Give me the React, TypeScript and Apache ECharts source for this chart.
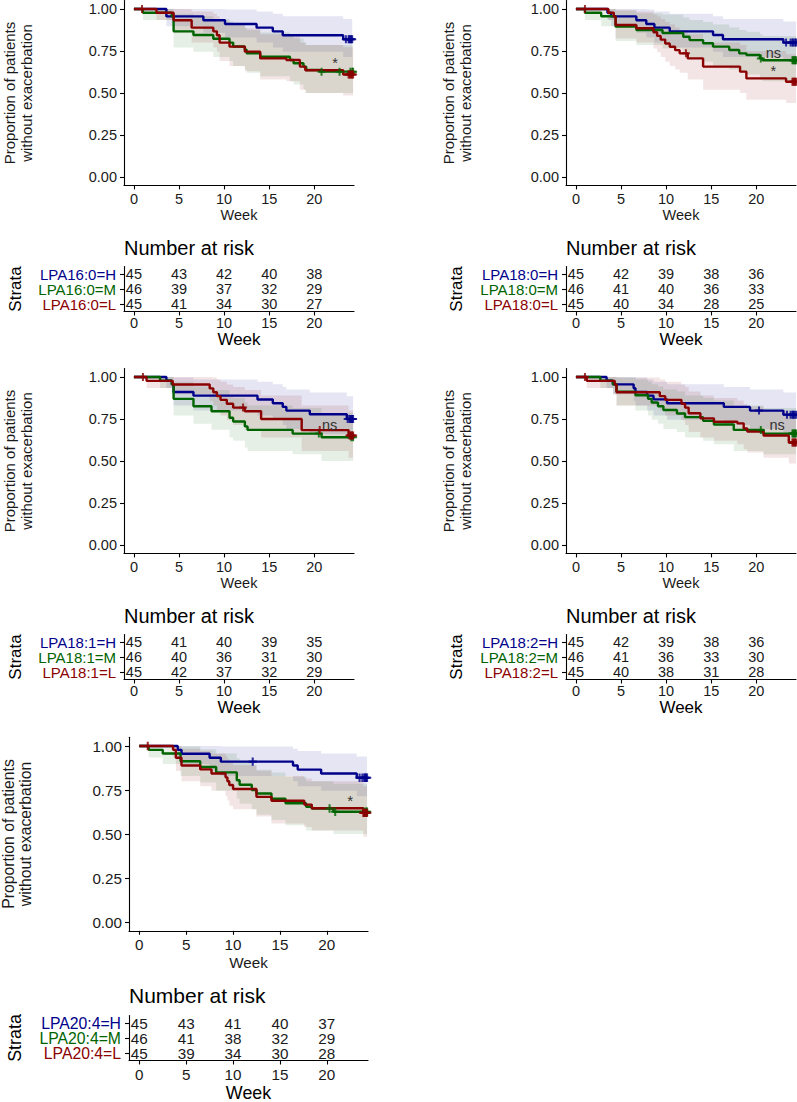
import React, { useEffect, useRef } from "react";
import * as echarts from "echarts";

// ---------- shared ticks ----------
const RISK_WEEKS = [0, 5, 10, 15, 20];
const X_TICKS = [0, 5, 10, 15, 20];
const Y_TICKS = [0, 0.25, 0.5, 0.75, 1];

// ---------- Panel 1 : LPA16:0 ----------
const P1_NAME = "LPA16:0";
const P1_H_STEPS = [[0, 1], [3.6, 0.956], [7.7, 0.933], [10.1, 0.911], [13.6, 0.889], [15.4, 0.867], [16.5, 0.844], [23.2, 0.82], [24.2, 0.82]];
const P1_H_BAND = [[1, 1], [0.898, 1], [0.858, 1], [0.83, 0.997], [0.8, 0.985], [0.771, 0.972], [0.746, 0.957], [0.715, 0.94], [0.715, 0.94]];
const P1_H_CENS = [23.5, 23.8, 23.9, 24.0, 24.1, 24.2];
const P1_M_STEPS = [[0, 1], [1.0, 0.978], [4.2, 0.957], [4.4, 0.867], [6.6, 0.845], [8.8, 0.823], [10.6, 0.8], [11.0, 0.777], [12.3, 0.757], [12.5, 0.737], [14.0, 0.716], [17.3, 0.696], [17.7, 0.677], [18.8, 0.657], [19.1, 0.637], [20.6, 0.627], [24.3, 0.627]];
const P1_M_BAND = [[1, 1], [0.935, 1], [0.898, 1], [0.771, 0.972], [0.746, 0.957], [0.715, 0.94], [0.69, 0.926], [0.66, 0.907], [0.64, 0.89], [0.62, 0.875], [0.6, 0.86], [0.57, 0.84], [0.55, 0.825], [0.52, 0.8], [0.5, 0.785], [0.5, 0.785], [0.5, 0.785]];
const P1_M_CENS = [20.8, 22.8, 24.0, 24.2, 24.3];
const P1_L_STEPS = [[0, 1], [2.5, 0.978], [4.4, 0.933], [6.4, 0.889], [8.8, 0.867], [9.2, 0.844], [9.5, 0.8], [10.6, 0.776], [12.3, 0.746], [14.0, 0.706], [16.9, 0.696], [18.4, 0.657], [19.0, 0.635], [23.2, 0.61], [24.3, 0.61]];
const P1_L_BAND = [[1, 1], [0.935, 1], [0.858, 1], [0.8, 0.985], [0.771, 0.972], [0.746, 0.957], [0.69, 0.926], [0.66, 0.907], [0.63, 0.885], [0.58, 0.85], [0.57, 0.84], [0.52, 0.8], [0.5, 0.785], [0.485, 0.772], [0.485, 0.772]];
const P1_L_CENS = [0.9, 23.8, 23.9, 24.0, 24.1, 24.2, 24.3];
const P1_RISK_H = [45, 43, 42, 40, 38];
const P1_RISK_M = [46, 39, 37, 32, 29];
const P1_RISK_L = [45, 41, 34, 30, 27];
const P1_NOTES = [[22.3, 0.68, "*"]];

// ---------- Panel 2 : LPA18:0 ----------
const P2_NAME = "LPA18:0";
const P2_H_STEPS = [[0, 1], [3.5, 0.978], [3.9, 0.956], [6.7, 0.933], [7.8, 0.911], [8.7, 0.889], [10.4, 0.867], [15.2, 0.845], [16.3, 0.82], [23.0, 0.8], [24.4, 0.8]];
const P2_H_BAND = [[1, 1], [0.935, 1], [0.898, 1], [0.858, 1], [0.83, 0.997], [0.8, 0.985], [0.771, 0.972], [0.746, 0.957], [0.715, 0.94], [0.69, 0.926], [0.69, 0.926]];
const P2_H_CENS = [23.3, 23.8, 24.0, 24.1, 24.3, 24.4];
const P2_M_STEPS = [[0, 1], [1.0, 0.978], [2.8, 0.957], [4.4, 0.895], [6.7, 0.875], [9.6, 0.857], [11.9, 0.835], [12.6, 0.815], [14.1, 0.796], [15.2, 0.776], [17.0, 0.756], [18.1, 0.736], [18.9, 0.726], [20.4, 0.706], [20.7, 0.695], [24.4, 0.695]];
const P2_M_BAND = [[1, 1], [0.935, 1], [0.898, 1], [0.81, 0.99], [0.785, 0.975], [0.765, 0.967], [0.735, 0.95], [0.71, 0.935], [0.686, 0.922], [0.66, 0.907], [0.64, 0.89], [0.62, 0.875], [0.61, 0.865], [0.58, 0.85], [0.57, 0.84], [0.57, 0.84]];
const P2_M_CENS = [20.5, 24.0, 24.1, 24.2, 24.3, 24.4];
const P2_L_STEPS = [[0, 1], [3.6, 0.978], [4.2, 0.956], [4.4, 0.905], [6.7, 0.885], [8.6, 0.862], [9.0, 0.84], [9.4, 0.818], [9.9, 0.795], [10.4, 0.775], [11.0, 0.755], [11.5, 0.736], [12.4, 0.706], [14.1, 0.657], [18.2, 0.627], [18.9, 0.587], [23.3, 0.567], [24.4, 0.567]];
const P2_L_BAND = [[1, 1], [0.935, 1], [0.898, 1], [0.824, 0.995], [0.8, 0.985], [0.765, 0.967], [0.742, 0.955], [0.715, 0.94], [0.686, 0.922], [0.66, 0.907], [0.64, 0.89], [0.62, 0.875], [0.58, 0.85], [0.52, 0.8], [0.5, 0.785], [0.46, 0.75], [0.44, 0.73], [0.44, 0.73]];
const P2_L_CENS = [1.0, 12.2, 24.0, 24.1, 24.2, 24.3, 24.4];
const P2_RISK_H = [45, 42, 39, 38, 36];
const P2_RISK_M = [46, 41, 40, 36, 33];
const P2_RISK_L = [45, 40, 34, 28, 25];
const P2_NOTES = [[21.9, 0.74, "ns"], [21.9, 0.63, "*"]];

// ---------- Panel 3 : LPA18:1 ----------
const P3_NAME = "LPA18:1";
const P3_H_STEPS = [[0, 1], [3.6, 0.978], [4.2, 0.956], [4.4, 0.911], [6.6, 0.889], [13.7, 0.866], [15.4, 0.844], [16.5, 0.822], [16.9, 0.8], [19.5, 0.778], [23.6, 0.75], [24.3, 0.75]];
const P3_H_BAND = [[1, 1], [0.935, 1], [0.898, 1], [0.83, 0.997], [0.8, 0.985], [0.771, 0.972], [0.746, 0.957], [0.715, 0.94], [0.69, 0.926], [0.66, 0.907], [0.63, 0.885], [0.63, 0.885]];
const P3_H_CENS = [23.7, 23.9, 24.0, 24.1, 24.2, 24.3];
const P3_M_STEPS = [[0, 1], [2.9, 0.978], [4.2, 0.957], [4.4, 0.87], [6.6, 0.826], [8.6, 0.796], [10.6, 0.757], [11.0, 0.735], [12.3, 0.706], [12.6, 0.685], [17.6, 0.663], [20.8, 0.641], [24.3, 0.641]];
const P3_M_BAND = [[1, 1], [0.935, 1], [0.898, 1], [0.771, 0.972], [0.722, 0.944], [0.686, 0.922], [0.64, 0.89], [0.62, 0.875], [0.58, 0.85], [0.56, 0.83], [0.54, 0.815], [0.5, 0.785], [0.5, 0.785]];
const P3_M_CENS = [20.5, 24.1, 24.3];
const P3_L_STEPS = [[0, 1], [1.4, 0.977], [4.3, 0.955], [8.4, 0.932], [8.8, 0.909], [9.2, 0.886], [9.6, 0.864], [10.3, 0.841], [11.0, 0.818], [12.3, 0.796], [14.1, 0.75], [18.6, 0.684], [23.8, 0.652], [24.3, 0.652]];
const P3_L_BAND = [[1, 1], [0.934, 1], [0.898, 1], [0.858, 1], [0.83, 0.997], [0.8, 0.985], [0.771, 0.972], [0.742, 0.955], [0.715, 0.94], [0.686, 0.922], [0.64, 0.89], [0.56, 0.83], [0.52, 0.8], [0.52, 0.8]];
const P3_L_CENS = [1.0, 12.1, 20.6, 23.9, 24.0, 24.1, 24.2, 24.3];
const P3_RISK_H = [45, 41, 40, 39, 35];
const P3_RISK_M = [46, 40, 36, 31, 30];
const P3_RISK_L = [45, 42, 37, 32, 29];
const P3_NOTES = [[21.7, 0.714, "ns"]];

// ---------- Panel 4 : LPA18:2 ----------
const P4_NAME = "LPA18:2";
const P4_H_STEPS = [[0, 1], [3.4, 0.978], [4.1, 0.956], [6.4, 0.933], [6.6, 0.911], [7.9, 0.889], [8.6, 0.867], [10.1, 0.844], [16.4, 0.822], [19.3, 0.8], [23.0, 0.776], [24.4, 0.776]];
const P4_H_BAND = [[1, 1], [0.935, 1], [0.898, 1], [0.858, 1], [0.83, 0.997], [0.8, 0.985], [0.771, 0.972], [0.746, 0.957], [0.715, 0.94], [0.69, 0.926], [0.66, 0.907], [0.66, 0.907]];
const P4_H_CENS = [20.3, 23.4, 23.8, 24.0, 24.1, 24.2, 24.4];
const P4_M_STEPS = [[0, 1], [2.7, 0.978], [4.1, 0.957], [4.5, 0.913], [6.6, 0.891], [8.0, 0.87], [8.4, 0.848], [9.1, 0.826], [9.7, 0.804], [11.2, 0.783], [12.1, 0.761], [14.1, 0.739], [15.3, 0.717], [17.5, 0.685], [20.8, 0.663], [24.4, 0.663]];
const P4_M_BAND = [[1, 1], [0.935, 1], [0.898, 1], [0.83, 0.997], [0.8, 0.985], [0.771, 0.972], [0.746, 0.957], [0.722, 0.944], [0.69, 0.926], [0.672, 0.913], [0.64, 0.89], [0.62, 0.875], [0.6, 0.86], [0.56, 0.83], [0.54, 0.815], [0.54, 0.815]];
const P4_M_CENS = [20.5, 24.0, 24.1, 24.2, 24.3, 24.4];
const P4_L_STEPS = [[0, 1], [1.2, 0.977], [4.3, 0.955], [4.5, 0.909], [9.3, 0.886], [9.9, 0.864], [11.7, 0.841], [12.1, 0.818], [12.5, 0.784], [13.8, 0.754], [15.3, 0.734], [17.9, 0.724], [18.6, 0.694], [19.0, 0.675], [20.8, 0.652], [23.6, 0.61], [24.4, 0.61]];
const P4_L_BAND = [[1, 1], [0.934, 1], [0.898, 1], [0.83, 0.997], [0.8, 0.985], [0.771, 0.972], [0.742, 0.955], [0.715, 0.94], [0.672, 0.913], [0.64, 0.89], [0.62, 0.875], [0.6, 0.86], [0.57, 0.84], [0.55, 0.825], [0.52, 0.8], [0.485, 0.772], [0.485, 0.772]];
const P4_L_CENS = [1.0, 24.0, 24.1, 24.2, 24.3, 24.4];
const P4_RISK_H = [45, 42, 39, 38, 36];
const P4_RISK_M = [46, 41, 36, 33, 30];
const P4_RISK_L = [45, 40, 38, 31, 28];
const P4_NOTES = [[22.3, 0.714, "ns"]];

// ---------- Panel 5 : LPA20:4 ----------
const P5_NAME = "LPA20:4";
const P5_H_STEPS = [[0, 1], [4.1, 0.978], [4.5, 0.956], [7.5, 0.933], [8.7, 0.911], [16.4, 0.889], [16.9, 0.866], [19.4, 0.844], [23.2, 0.82], [24.3, 0.82]];
const P5_H_BAND = [[1, 1], [0.935, 1], [0.898, 1], [0.858, 1], [0.83, 0.997], [0.8, 0.985], [0.771, 0.972], [0.746, 0.957], [0.715, 0.94], [0.715, 0.94]];
const P5_H_CENS = [12.1, 23.5, 23.8, 24.0, 24.1, 24.2, 24.3];
const P5_M_STEPS = [[0, 1], [1.0, 0.978], [2.5, 0.957], [4.4, 0.913], [6.5, 0.881], [8.2, 0.85], [10.4, 0.805], [10.7, 0.78], [12.0, 0.75], [12.5, 0.73], [14.1, 0.7], [15.6, 0.675], [17.8, 0.655], [18.4, 0.645], [20.7, 0.626], [24.3, 0.626]];
const P5_M_BAND = [[1, 1], [0.935, 1], [0.898, 1], [0.83, 0.997], [0.793, 0.981], [0.746, 0.957], [0.7, 0.93], [0.672, 0.913], [0.64, 0.89], [0.61, 0.865], [0.58, 0.85], [0.55, 0.825], [0.52, 0.8], [0.52, 0.8], [0.5, 0.785], [0.5, 0.785]];
const P5_M_CENS = [20.3, 20.9, 24.0, 24.2, 24.3];
const P5_L_STEPS = [[0, 1], [3.6, 0.978], [3.9, 0.933], [4.5, 0.889], [6.5, 0.867], [7.7, 0.844], [9.2, 0.822], [9.4, 0.8], [9.6, 0.778], [10.0, 0.756], [12.5, 0.711], [14.1, 0.689], [17.6, 0.667], [18.4, 0.646], [23.9, 0.62], [24.3, 0.62]];
const P5_L_BAND = [[1, 1], [0.935, 1], [0.858, 1], [0.8, 0.985], [0.771, 0.972], [0.746, 0.957], [0.715, 0.94], [0.69, 0.926], [0.66, 0.907], [0.64, 0.89], [0.6, 0.86], [0.56, 0.83], [0.54, 0.815], [0.52, 0.8], [0.485, 0.772], [0.485, 0.772]];
const P5_L_CENS = [0.9, 23.9, 24.0, 24.1, 24.2, 24.3];
const P5_RISK_H = [45, 43, 41, 40, 37];
const P5_RISK_M = [46, 41, 38, 32, 29];
const P5_RISK_L = [45, 39, 34, 30, 28];
const P5_NOTES = [[22.5, 0.69, "*"]];

// ---------- styling / layout ----------
const FONT = "'Liberation Sans', Arial, Helvetica, sans-serif";
const TEXT = "#1a1a1a";
const COL: Record<string, string> = { H: "#00008B", M: "#006400", L: "#8B0000" };
const BAND: Record<string, string> = {
  H: "rgba(0,0,139,0.1)",
  M: "rgba(0,100,0,0.1)",
  L: "rgba(139,0,0,0.1)",
};
const PLUS = "path://M0,3H8V5H0ZM3,0H5V8H3Z";

const PANELS = [
  { name: P1_NAME, H: [P1_H_STEPS, P1_H_BAND, P1_H_CENS], M: [P1_M_STEPS, P1_M_BAND, P1_M_CENS], L: [P1_L_STEPS, P1_L_BAND, P1_L_CENS], risk: { H: P1_RISK_H, M: P1_RISK_M, L: P1_RISK_L }, notes: P1_NOTES },
  { name: P2_NAME, H: [P2_H_STEPS, P2_H_BAND, P2_H_CENS], M: [P2_M_STEPS, P2_M_BAND, P2_M_CENS], L: [P2_L_STEPS, P2_L_BAND, P2_L_CENS], risk: { H: P2_RISK_H, M: P2_RISK_M, L: P2_RISK_L }, notes: P2_NOTES },
  { name: P3_NAME, H: [P3_H_STEPS, P3_H_BAND, P3_H_CENS], M: [P3_M_STEPS, P3_M_BAND, P3_M_CENS], L: [P3_L_STEPS, P3_L_BAND, P3_L_CENS], risk: { H: P3_RISK_H, M: P3_RISK_M, L: P3_RISK_L }, notes: P3_NOTES },
  { name: P4_NAME, H: [P4_H_STEPS, P4_H_BAND, P4_H_CENS], M: [P4_M_STEPS, P4_M_BAND, P4_M_CENS], L: [P4_L_STEPS, P4_L_BAND, P4_L_CENS], risk: { H: P4_RISK_H, M: P4_RISK_M, L: P4_RISK_L }, notes: P4_NOTES },
  { name: P5_NAME, H: [P5_H_STEPS, P5_H_BAND, P5_H_CENS], M: [P5_M_STEPS, P5_M_BAND, P5_M_CENS], L: [P5_L_STEPS, P5_L_BAND, P5_L_CENS], risk: { H: P5_RISK_H, M: P5_RISK_M, L: P5_RISK_L }, notes: P5_NOTES },
];

const LAYOUT = [
  { km: { left: 124, top: 0.6, width: 230, height: 184.8 }, tab: { left: 124, top: 266.5, width: 230, height: 45 }, s: 1, ytx: 18, stx: 15, kmWeekY: 215, riskTitleY: 248, tabWeekY: 339, tabMargin: 4 },
  { km: { left: 566, top: 0.6, width: 230, height: 184.8 }, tab: { left: 566, top: 266.5, width: 230, height: 45 }, s: 1, ytx: 457, stx: 456, kmWeekY: 215, riskTitleY: 248, tabWeekY: 339, tabMargin: 4 },
  { km: { left: 124, top: 368.6, width: 230, height: 184.8 }, tab: { left: 124, top: 634.5, width: 230, height: 45 }, s: 1, ytx: 18, stx: 15, kmWeekY: 583, riskTitleY: 616, tabWeekY: 707, tabMargin: 4 },
  { km: { left: 566, top: 368.6, width: 230, height: 184.8 }, tab: { left: 566, top: 634.5, width: 230, height: 45 }, s: 1, ytx: 457, stx: 456, kmWeekY: 583, riskTitleY: 616, tabWeekY: 707, tabMargin: 4 },
  { km: { left: 129, top: 737.2, width: 239, height: 193.6 }, tab: { left: 129, top: 1015.5, width: 239, height: 45 }, s: 1.05, ytx: 17, stx: 15, kmWeekY: 962, riskTitleY: 995, tabWeekY: 1093, tabMargin: 6 },
];

function survAt(steps: number[][], t: number) {
  let s = steps[0][1];
  for (const [x, y] of steps) if (x <= t) s = y;
  return s;
}

const axisLineStyle = { color: "#000", width: 1.1 };

function xAxisDef(gridIndex: number, fs: number, margin: number) {
  return {
    type: "value", gridIndex, min: -1.1, max: 24.4,
    axisLine: { show: true, onZero: false, lineStyle: axisLineStyle },
    axisTick: { show: true, length: 4, customValues: X_TICKS, lineStyle: axisLineStyle },
    axisLabel: { customValues: X_TICKS, fontSize: fs, color: TEXT, margin, fontFamily: FONT },
    splitLine: { show: false },
  };
}

function buildOption() {
  const grid: any[] = [];
  const xAxis: any[] = [];
  const yAxis: any[] = [];
  const series: any[] = [];
  const graphic: any[] = [];

  PANELS.forEach((p: any, i: number) => {
    const L = LAYOUT[i];
    const s = L.s;
    const fs = 14.5 * s;
    const kIdx = 2 * i;
    const tIdx = 2 * i + 1;
    grid.push({ ...L.km }, { ...L.tab });

    xAxis.push(xAxisDef(kIdx, fs, 6), xAxisDef(tIdx, fs, L.tabMargin));
    yAxis.push({
      type: "value", gridIndex: kIdx, min: -0.05, max: 1.05,
      axisLine: { show: true, onZero: false, lineStyle: axisLineStyle },
      axisTick: { show: true, length: 4, customValues: Y_TICKS, lineStyle: axisLineStyle },
      axisLabel: { customValues: Y_TICKS, formatter: (v: number) => v.toFixed(2), fontSize: fs, color: TEXT, margin: 7, fontFamily: FONT },
      splitLine: { show: false },
    });
    const cats = ["L", "M", "H"].map((k) => `${p.name}=${k}`);
    yAxis.push({
      type: "category", gridIndex: tIdx, data: cats, boundaryGap: true,
      axisLine: { show: true, onZero: false, lineStyle: axisLineStyle },
      axisTick: { show: true, alignWithLabel: true, interval: 0, length: 4, lineStyle: axisLineStyle },
      axisLabel: {
        interval: 0,
        hideOverlap: false,
        margin: 8,
        formatter: (v: string) => `{${v.slice(-1)}|${v}}`,
        rich: {
          H: { color: COL.H, fontSize: 15 * s, fontFamily: FONT },
          M: { color: COL.M, fontSize: 15 * s, fontFamily: FONT },
          L: { color: COL.L, fontSize: 15 * s, fontFamily: FONT },
        },
      },
      splitLine: { show: false },
    });

    const keys = ["H", "M", "L"];
    // confidence bands
    keys.forEach((k) => {
      const [steps, band] = p[k];
      series.push({
        type: "custom", xAxisIndex: kIdx, yAxisIndex: kIdx, silent: true, z: 1,
        data: [[0, 0]],
        renderItem: (_params: any, api: any) => {
          const n = steps.length;
          const pts: number[][] = [];
          for (let j = 0; j < n - 1; j++) {
            pts.push(api.coord([steps[j][0], band[j][1]]));
            pts.push(api.coord([steps[j + 1][0], band[j][1]]));
          }
          for (let j = n - 2; j >= 0; j--) {
            pts.push(api.coord([steps[j + 1][0], band[j][0]]));
            pts.push(api.coord([steps[j][0], band[j][0]]));
          }
          return { type: "polygon", shape: { points: pts }, style: { fill: BAND[k] } };
        },
      });
    });
    // survival curves
    keys.forEach((k) => {
      const [steps] = p[k];
      series.push({
        type: "line", xAxisIndex: kIdx, yAxisIndex: kIdx, step: "end", data: steps,
        symbol: "none", showSymbol: false, silent: true, z: 3,
        lineStyle: { color: COL[k], width: 2.4 }, itemStyle: { color: COL[k] },
        emphasis: { disabled: true },
      });
    });
    // censor marks
    keys.forEach((k) => {
      const [steps, , cens] = p[k];
      series.push({
        type: "scatter", xAxisIndex: kIdx, yAxisIndex: kIdx, silent: true, z: 4,
        data: cens.map((t: number) => [t, survAt(steps, t)]),
        symbol: PLUS, symbolSize: 8 * s, itemStyle: { color: COL[k] },
        emphasis: { disabled: true },
      });
    });
    // p-value annotations
    series.push({
      type: "custom", xAxisIndex: kIdx, yAxisIndex: kIdx, silent: true, z: 5,
      data: p.notes.map((n: any[]) => [n[0], n[1]]),
      renderItem: (params: any, api: any) => {
        const pt = api.coord([api.value(0), api.value(1)]);
        return {
          type: "text", x: pt[0], y: pt[1],
          style: { text: p.notes[params.dataIndex][2], align: "center", verticalAlign: "middle", fontSize: 14.5 * s, fontFamily: FONT, fill: "#333" },
        };
      },
    });
    // risk table numbers
    const riskData: number[][] = [];
    ["L", "M", "H"].forEach((k, ci) => {
      p.risk[k].forEach((n: number, j: number) => riskData.push([RISK_WEEKS[j], ci, n]));
    });
    series.push({
      type: "custom", xAxisIndex: tIdx, yAxisIndex: tIdx, silent: true, z: 5,
      data: riskData,
      renderItem: (_params: any, api: any) => {
        const pt = api.coord([api.value(0), api.value(1)]);
        return {
          type: "text", x: pt[0], y: pt[1],
          style: { text: String(api.value(2)), align: "center", verticalAlign: "middle", fontSize: fs, fontFamily: FONT, fill: TEXT },
        };
      },
    });

    // titles
    graphic.push({
      type: "text", x: L.ytx, y: L.km.top + L.km.height / 2, rotation: Math.PI / 2, silent: true,
      style: { text: "Proportion of patients\nwithout exacerbation", align: "center", verticalAlign: "middle", fontSize: 15 * s, lineHeight: 17 * s, fontFamily: FONT, fill: TEXT },
    });
    graphic.push({
      type: "text", x: L.km.left + L.km.width / 2, y: L.kmWeekY, silent: true,
      style: { text: "Week", align: "center", verticalAlign: "middle", fontSize: 14.5 * s, fontFamily: FONT, fill: TEXT },
    });
    graphic.push({
      type: "text", x: L.tab.left, y: L.riskTitleY, silent: true,
      style: { text: "Number at risk", align: "left", verticalAlign: "middle", fontSize: 20 * s, fontFamily: FONT, fill: "#000" },
    });
    graphic.push({
      type: "text", x: L.stx, y: L.tab.top + L.tab.height / 2, rotation: Math.PI / 2, silent: true,
      style: { text: "Strata", align: "center", verticalAlign: "middle", fontSize: 17 * s, fontFamily: FONT, fill: "#000" },
    });
    graphic.push({
      type: "text", x: L.tab.left + L.tab.width / 2, y: L.tabWeekY, silent: true,
      style: { text: "Week", align: "center", verticalAlign: "middle", fontSize: 17 * s, fontFamily: FONT, fill: "#000" },
    });
  });

  return {
    animation: false,
    backgroundColor: "#fff",
    textStyle: { fontFamily: FONT },
    grid, xAxis, yAxis, series, graphic,
  };
}

export default function App() {
  const ref = useRef<HTMLDivElement>(null);
  useEffect(() => {
    if (!ref.current) return;
    const chart = echarts.init(ref.current, null, { renderer: "svg" });
    chart.setOption(buildOption() as any);
    return () => chart.dispose();
  }, []);
  return (
    <div
      ref={ref}
      style={{ position: "absolute", left: 0, top: 0, width: 797, height: 1102, background: "#fff" }}
    />
  );
}
